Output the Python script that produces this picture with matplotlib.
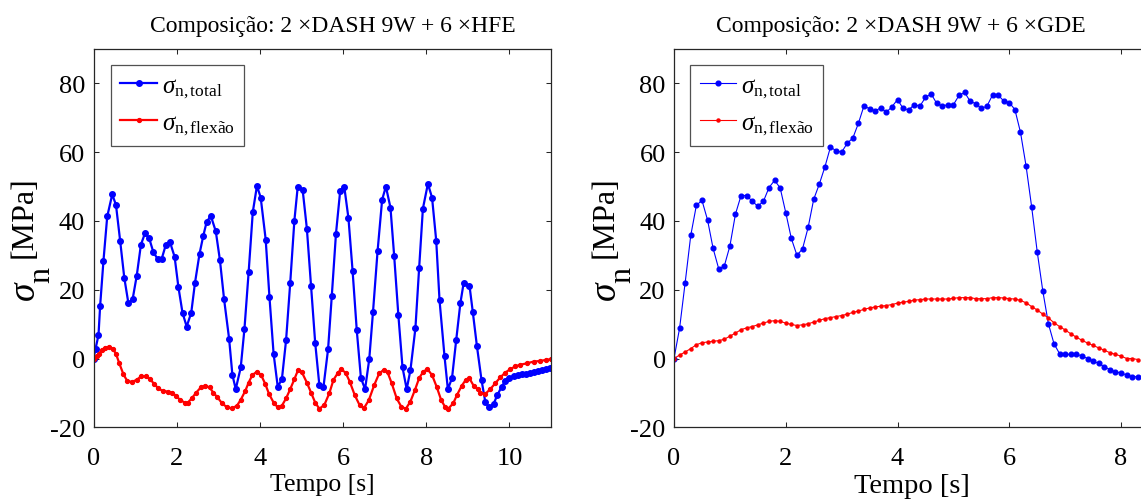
import numpy as np
import matplotlib
matplotlib.use("Agg")
import matplotlib.pyplot as plt

plt.rcParams['font.family'] = ['Liberation Serif', 'DejaVu Serif']
plt.rcParams['mathtext.fontset'] = 'custom'
plt.rcParams['mathtext.rm'] = 'Liberation Serif'
plt.rcParams['mathtext.it'] = 'Liberation Serif:italic'
plt.rcParams['axes.unicode_minus'] = False

# ---------------- data ----------------
titles = ["Composição: 2 ×DASH 9W + 6 ×HFE", "Composição: 2 ×DASH 9W + 6 ×GDE"]
legend_labels = [r'$\sigma_{\mathrm{n,total}}$', r'$\sigma_{\mathrm{n,flexão}}$']
xlabel = "Tempo [s]"
ylabel_parts = ["σ", "n", "[MPa]"]
x_ticks_left = [0, 2, 4, 6, 8, 10]
x_ticks_right = [0, 2, 4, 6, 8]
y_ticks = [-20, 0, 20, 40, 60, 80]

# Left panel (HFE)
t_total_hfe = [0, 0.05, 0.12, 0.16, 0.24, 0.33, 0.45, 0.54, 0.64, 0.74,
               0.84, 0.94, 1.04, 1.14, 1.24, 1.34, 1.44, 1.54, 1.64, 1.74,
               1.84, 1.95, 2.04, 2.14, 2.24, 2.35, 2.44, 2.55, 2.64, 2.72,
               2.82, 2.94, 3.04, 3.14, 3.26, 3.34, 3.42, 3.54, 3.63, 3.73,
               3.83, 3.93, 4.02, 4.14, 4.23, 4.33, 4.43, 4.53, 4.63, 4.73,
               4.83, 4.91, 5.03, 5.13, 5.23, 5.33, 5.43, 5.53, 5.64, 5.73,
               5.83, 5.93, 6.03, 6.13, 6.23, 6.33, 6.43, 6.53, 6.63, 6.72,
               6.83, 6.94, 7.03, 7.14, 7.23, 7.33, 7.43, 7.53, 7.62, 7.74,
               7.83, 7.92, 8.04, 8.14, 8.24, 8.32, 8.44, 8.52, 8.62, 8.72,
               8.82, 8.90, 9.04, 9.12, 9.22, 9.33, 9.42, 9.51, 9.62, 9.71,
               9.81, 9.90, 10.0, 10.1, 10.2, 10.3, 10.39, 10.49, 10.59, 10.68,
               10.78, 10.87, 10.97]
s_total_hfe = [0, 2.9, 6.8, 15.4, 28.5, 41.3, 47.7, 44.7, 34.3, 23.5,
               16.0, 17.2, 24.1, 33.1, 36.5, 34.9, 30.9, 29.0, 29.0, 33.1,
               33.8, 29.6, 20.9, 13.3, 9.3, 13.3, 22.0, 30.5, 35.7, 39.7,
               41.5, 37.0, 28.6, 17.2, 5.8, -4.8, -8.9, -2.6, 8.7, 25.1,
               42.6, 50.2, 46.8, 34.6, 18.0, 1.4, -8.2, -6.0, 5.3, 22.0,
               40.1, 49.9, 48.9, 37.8, 21.2, 4.6, -7.7, -8.2, 2.7, 18.3,
               36.3, 48.6, 49.9, 40.8, 25.4, 8.2, -5.7, -8.9, -0.2, 13.5,
               31.2, 46.2, 50.0, 43.9, 29.7, 12.6, -2.6, -8.9, -3.4, 8.8,
               26.4, 43.6, 50.8, 46.8, 34.3, 16.9, 0.6, -8.9, -5.7, 5.3,
               16.0, 22.0, 21.2, 13.5, 3.5, -6.3, -12.6, -14.2, -13.2, -10.6,
               -8.3, -6.5, -5.6, -5.1, -4.8, -4.5, -4.4, -4.1, -3.8, -3.6,
               -3.4, -3.1, -2.9]
t_flex_hfe = [0, 0.08, 0.13, 0.2, 0.28, 0.37, 0.46, 0.54, 0.62, 0.72,
              0.81, 0.92, 1.04, 1.14, 1.26, 1.36, 1.46, 1.56, 1.66, 1.78,
              1.88, 1.98, 2.08, 2.19, 2.27, 2.36, 2.47, 2.58, 2.68, 2.79,
              2.88, 2.98, 3.09, 3.21, 3.33, 3.45, 3.54, 3.65, 3.73, 3.82,
              3.93, 4.03, 4.13, 4.22, 4.33, 4.43, 4.53, 4.63, 4.73, 4.83,
              4.92, 5.01, 5.13, 5.23, 5.33, 5.43, 5.55, 5.67, 5.77, 5.87,
              5.95, 6.06, 6.16, 6.28, 6.40, 6.50, 6.62, 6.75, 6.87, 6.98,
              7.07, 7.17, 7.29, 7.40, 7.51, 7.62, 7.73, 7.83, 7.93, 8.03,
              8.14, 8.25, 8.36, 8.46, 8.53, 8.65, 8.74, 8.85, 8.95, 9.04,
              9.14, 9.24, 9.30, 9.42, 9.54, 9.66, 9.78, 9.90, 10.02, 10.14,
              10.26, 10.42, 10.58, 10.74, 10.88, 10.99]
s_flex_hfe = [0, 0.8, 1.4, 2.4, 3.2, 3.4, 2.9, 1.4, -1.4, -4.6,
              -6.5, -6.8, -6.2, -5.2, -5.2, -6.0, -7.4, -8.7, -9.4, -9.6,
              -9.9, -10.8, -12.0, -12.8, -12.8, -11.6, -9.9, -8.4, -7.9, -8.4,
              -9.9, -11.3, -13.0, -14.2, -14.5, -13.7, -12.0, -9.4, -7.0, -4.8,
              -3.8, -4.8, -7.4, -10.3, -12.8, -14.2, -13.7, -11.6, -8.9, -6.0,
              -3.3, -4.0, -7.0, -9.9, -12.8, -14.6, -13.5, -10.1, -6.2, -4.3,
              -3.1, -4.1, -6.7, -10.6, -13.6, -14.5, -12.1, -7.7, -4.3, -3.3,
              -4.0, -7.2, -11.6, -14.0, -14.6, -12.5, -9.1, -5.7, -3.8, -3.1,
              -4.8, -8.2, -12.1, -14.2, -14.6, -13.0, -10.6, -8.0, -6.2, -5.8,
              -7.9, -9.0, -9.9, -10.3, -8.9, -7.2, -5.5, -4.1, -3.1, -2.3,
              -1.8, -1.4, -0.9, -0.7, -0.4, -0.2]

# Right panel (GDE), sampled every 0.1 s from 0 to 8.3 s
t_gde = [0.0, 0.1, 0.2, 0.3, 0.4, 0.5, 0.6, 0.7, 0.8, 0.9,
         1.0, 1.1, 1.2, 1.3, 1.4, 1.5, 1.6, 1.7, 1.8, 1.9,
         2.0, 2.1, 2.2, 2.3, 2.4, 2.5, 2.6, 2.7, 2.8, 2.9,
         3.0, 3.1, 3.2, 3.3, 3.4, 3.5, 3.6, 3.7, 3.8, 3.9,
         4.0, 4.1, 4.2, 4.3, 4.4, 4.5, 4.6, 4.7, 4.8, 4.9,
         5.0, 5.1, 5.2, 5.3, 5.4, 5.5, 5.6, 5.7, 5.8, 5.9,
         6.0, 6.1, 6.2, 6.3, 6.4, 6.5, 6.6, 6.7, 6.8, 6.9,
         7.0, 7.1, 7.2, 7.3, 7.4, 7.5, 7.6, 7.7, 7.8, 7.9,
         8.0, 8.1, 8.2, 8.3]
s_total_gde = [0, 8.8, 22.1, 35.8, 44.5, 46.0, 40.3, 32.0, 26.1, 26.9,
               32.7, 42.0, 47.4, 47.4, 45.7, 44.3, 45.7, 49.7, 51.8, 49.6,
               42.4, 34.9, 30.0, 31.9, 38.1, 46.3, 50.7, 55.7, 61.5, 60.4,
               60.0, 62.6, 64.1, 68.4, 73.5, 72.6, 72.0, 72.9, 71.6, 73.2,
               75.3, 72.7, 72.3, 73.8, 73.4, 75.9, 77.0, 74.2, 73.4, 73.8,
               73.8, 76.5, 77.4, 74.8, 74.1, 72.7, 73.4, 76.6, 76.6, 74.9,
               74.4, 72.4, 65.8, 56.0, 44.1, 31.0, 19.6, 10.1, 4.3, 1.4,
               1.2, 1.2, 1.2, 0.8, 0.0, -0.8, -1.4, -2.4, -3.2, -3.9,
               -4.2, -4.8, -5.3, -5.3]
s_flex_gde = [0, 1.0, 1.9, 2.9, 4.0, 4.6, 4.8, 5.0, 5.2, 5.6,
              6.5, 7.4, 8.4, 8.9, 9.3, 9.8, 10.3, 10.8, 11.0, 10.8,
              10.3, 9.9, 9.6, 9.8, 10.1, 10.6, 11.1, 11.6, 11.9, 12.2,
              12.5, 12.9, 13.4, 13.8, 14.3, 14.7, 15.0, 15.2, 15.4, 15.7,
              16.1, 16.4, 16.6, 17.0, 17.1, 17.3, 17.3, 17.3, 17.3, 17.3,
              17.5, 17.7, 17.7, 17.7, 17.4, 17.4, 17.4, 17.7, 17.7, 17.6,
              17.4, 17.3, 16.9, 16.2, 15.1, 14.1, 12.9, 11.8, 10.4, 9.3,
              8.3, 7.2, 6.2, 5.3, 4.5, 3.8, 3.1, 2.4, 1.7, 1.2,
              0.7, 0.0, 0.0, -0.3]

# ---------------- figure ----------------
W, H = 1141, 502
fig = plt.figure(figsize=(W / 100, H / 100), dpi=100)

ax_bottom = 428.3
ax_top = 50
left1, left2 = 93.5, 674
ax1 = fig.add_axes([left1 / W, 1 - ax_bottom / H, 457.5 / W, (ax_bottom - ax_top) / H])
ax2 = fig.add_axes([left2 / W, 1 - ax_bottom / H, 475 / W, (ax_bottom - ax_top) / H])

BLUE = (0, 0, 1)
RED = (1, 0, 0)
SPINE = (0.15, 0.15, 0.15)

ax1.plot(t_total_hfe, s_total_hfe, '-o', color=BLUE, lw=1.6, ms=4.0, label=legend_labels[0])
ax1.plot(t_flex_hfe, s_flex_hfe, '-o', color=RED, lw=1.6, ms=2.8, label=legend_labels[1])
ax2.plot(t_gde, s_total_gde, '-o', color=BLUE, lw=0.8, ms=3.4, label=legend_labels[0])
ax2.plot(t_gde, s_flex_gde, '-o', color=RED, lw=0.8, ms=2.2, label=legend_labels[1])

ax1.set_xlim(0, 11)
ax2.set_xlim(0, 8.5)
ax1.set_xticks(x_ticks_left)
ax2.set_xticks(x_ticks_right)


def px(x, y):
    """pixel position (from top-left) -> figure fraction"""
    return x / W, 1 - y / H


for ax, left, xl_size, ttl, tx, lx in [(ax1, left1, 18.5, titles[0], 0.523, 0.038),
                                        (ax2, left2, 20.5, titles[1], 0.478, 0.034)]:
    ax.set_ylim(-20, 90)
    ax.set_yticks(y_ticks)
    ax.tick_params(direction='in', length=3.5, width=0.75, colors=SPINE,
                   labelcolor='black', labelsize=19, top=True, right=True)
    ax.tick_params(axis='x', pad=14)
    ax.tick_params(axis='y', pad=6)
    for sp in ax.spines.values():
        sp.set_color(SPINE)
        sp.set_linewidth(0.9)
    ax.set_xlabel(xlabel, fontsize=xl_size, labelpad=3)
    ax.set_title(ttl, fontsize=17, x=tx, pad=13)
    leg = ax.legend(loc='upper left', bbox_to_anchor=(lx, 0.958),
                    borderaxespad=0, fontsize=18, frameon=True, fancybox=False,
                    handlelength=1.45, handletextpad=0.2, labelspacing=0.45,
                    borderpad=0.38)
    leg.get_frame().set_edgecolor(SPINE)
    leg.get_frame().set_linewidth(0.9)

    # y label: sigma with a full-size, lowered "n" subscript, then [MPa]
    off = left - left1
    fig.text(*px(24.5 + off, 217.5), ylabel_parts[2], rotation=90, fontsize=23,
             ha='center', va='center')
    fig.text(*px(25 + off, 291), ylabel_parts[0], rotation=90, fontsize=27,
             style='italic', ha='center', va='center')
    fig.text(*px(42 + off, 275), ylabel_parts[1], rotation=90, fontsize=23,
             ha='center', va='center')

fig.savefig('out.png', dpi=100)
